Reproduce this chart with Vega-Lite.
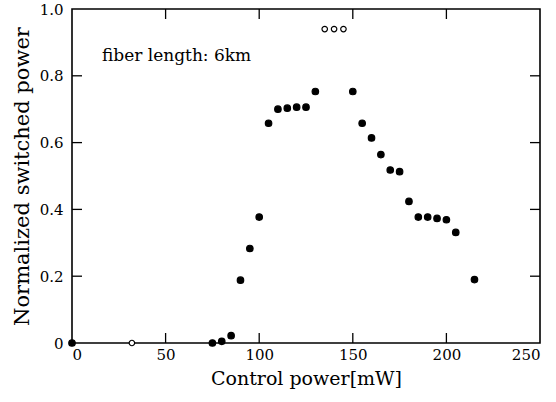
{
  "$schema": "https://vega.github.io/schema/vega-lite/v6.json",
  "autosize": {"type": "none"},
  "padding": {"left": 72, "top": 9, "right": 16, "bottom": 59},
  "width": 468,
  "height": 334,
  "background": "white",
  "config": {
    "view": {"stroke": "black", "strokeWidth": 1.6},
    "font": "DejaVu Serif",
    "axis": {
      "grid": false,
      "domain": false,
      "ticks": false,
      "labelFont": "DejaVu Serif",
      "labelFontSize": 15,
      "labelColor": "black",
      "titleFont": "DejaVu Serif",
      "titleFontWeight": "normal",
      "titleColor": "black"
    }
  },
  "datasets": {
    "pts": [
      {"power": 0, "sw": 0, "kind": "filled"},
      {"power": 32, "sw": 0, "kind": "open"},
      {"power": 75, "sw": 0, "kind": "filled"},
      {"power": 80, "sw": 0.005, "kind": "filled"},
      {"power": 85, "sw": 0.022, "kind": "filled"},
      {"power": 90, "sw": 0.188, "kind": "filled"},
      {"power": 95, "sw": 0.283, "kind": "filled"},
      {"power": 100, "sw": 0.377, "kind": "filled"},
      {"power": 105, "sw": 0.658, "kind": "filled"},
      {"power": 110, "sw": 0.70, "kind": "filled"},
      {"power": 115, "sw": 0.703, "kind": "filled"},
      {"power": 120, "sw": 0.706, "kind": "filled"},
      {"power": 125, "sw": 0.706, "kind": "filled"},
      {"power": 130, "sw": 0.753, "kind": "filled"},
      {"power": 135, "sw": 0.94, "kind": "open"},
      {"power": 140, "sw": 0.94, "kind": "open"},
      {"power": 145, "sw": 0.94, "kind": "open"},
      {"power": 150, "sw": 0.753, "kind": "filled"},
      {"power": 155, "sw": 0.658, "kind": "filled"},
      {"power": 160, "sw": 0.614, "kind": "filled"},
      {"power": 165, "sw": 0.564, "kind": "filled"},
      {"power": 170, "sw": 0.518, "kind": "filled"},
      {"power": 175, "sw": 0.513, "kind": "filled"},
      {"power": 180, "sw": 0.424, "kind": "filled"},
      {"power": 185, "sw": 0.377, "kind": "filled"},
      {"power": 190, "sw": 0.377, "kind": "filled"},
      {"power": 195, "sw": 0.373, "kind": "filled"},
      {"power": 200, "sw": 0.369, "kind": "filled"},
      {"power": 205, "sw": 0.331, "kind": "filled"},
      {"power": 215, "sw": 0.19, "kind": "filled"}
    ],
    "note": [
      {"power": 16, "sw": 0.843, "label": "fiber length: 6km"}
    ],
    "xticks": [{"v": 50}, {"v": 100}, {"v": 150}, {"v": 200}],
    "yticks": [{"v": 0.2}, {"v": 0.4}, {"v": 0.6}, {"v": 0.8}]
  },
  "layer": [
    {
      "data": {"name": "xticks"},
      "mark": {"type": "rule", "color": "black", "strokeWidth": 1.3},
      "encoding": {
        "x": {"field": "v", "type": "quantitative", "axis": null},
        "y": {"datum": 0, "type": "quantitative", "axis": null},
        "y2": {"datum": 0.03}
      }
    },
    {
      "data": {"name": "xticks"},
      "mark": {"type": "rule", "color": "black", "strokeWidth": 1.3},
      "encoding": {
        "x": {"field": "v", "type": "quantitative", "axis": null},
        "y": {"datum": 1, "type": "quantitative", "axis": null},
        "y2": {"datum": 0.97}
      }
    },
    {
      "data": {"name": "yticks"},
      "mark": {"type": "rule", "color": "black", "strokeWidth": 1.3},
      "encoding": {
        "y": {"field": "v", "type": "quantitative", "axis": null},
        "x": {"datum": 0, "type": "quantitative", "axis": null},
        "x2": {"datum": 5.34}
      }
    },
    {
      "data": {"name": "yticks"},
      "mark": {"type": "rule", "color": "black", "strokeWidth": 1.3},
      "encoding": {
        "y": {"field": "v", "type": "quantitative", "axis": null},
        "x": {"datum": 250, "type": "quantitative", "axis": null},
        "x2": {"datum": 244.66}
      }
    },
    {
      "data": {"name": "pts"},
      "mark": {"type": "point", "clip": false, "stroke": "black", "strokeWidth": 1.2, "opacity": 1},
      "encoding": {
        "x": {
          "field": "power", "type": "quantitative",
          "scale": {"domain": [0, 250], "nice": false, "zero": false},
          "axis": {"orient": "bottom", "values": [0, 50, 100, 150, 200, 250], "title": "Control power[mW]", "titleFontSize": 19,
                   "labelPadding": 4, "titlePadding": 7}
        },
        "y": {
          "field": "sw", "type": "quantitative",
          "scale": {"domain": [0, 1], "nice": false},
          "axis": {"orient": "left", "values": [0, 0.2, 0.4, 0.6, 0.8, 1.0], "title": "Normalized switched power", "titleFontSize": 21,
                   "labelPadding": 9, "titlePadding": 7,
                   "labelExpr": "datum.value == 0 ? '0' : format(datum.value, '.1f')"}
        },
        "fill": {"field": "kind", "type": "nominal", "scale": {"domain": ["filled", "open"], "range": ["black", "white"]}, "legend": null},
        "size": {"field": "kind", "type": "nominal", "scale": {"domain": ["filled", "open"], "range": [42, 30]}, "legend": null}
      }
    },
    {
      "data": {"name": "note"},
      "mark": {"type": "text", "align": "left", "baseline": "alphabetic", "fontSize": 17, "font": "DejaVu Serif", "color": "black"},
      "encoding": {
        "x": {"field": "power", "type": "quantitative", "axis": null},
        "y": {"field": "sw", "type": "quantitative", "axis": null},
        "text": {"field": "label"}
      }
    }
  ],
  "resolve": {"axis": {"x": "independent", "y": "independent"}}
}
